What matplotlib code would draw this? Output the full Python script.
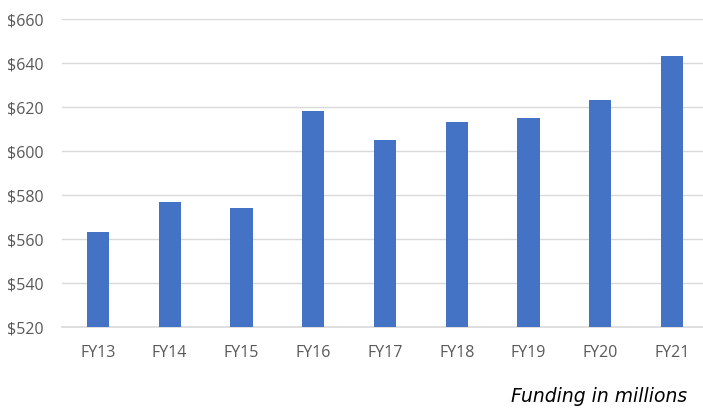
import matplotlib
matplotlib.use("Agg")
import matplotlib.pyplot as plt
from matplotlib.ticker import FuncFormatter

categories = ["FY13", "FY14", "FY15", "FY16", "FY17", "FY18", "FY19", "FY20", "FY21"]
funding = [563, 577, 574, 618, 605, 613, 615, 623, 643]
yticks = [520, 540, 560, 580, 600, 620, 640, 660]

plt.rcParams['font.family'] = ['Open Sans', 'DejaVu Sans']

fig = plt.figure(figsize=(7.03, 4.09), dpi=100)
ax = fig.add_axes([62/703, 1-327/409, (708-62)/703, (327-19)/409])
x = range(len(categories))
ax.bar(x, funding, width=0.31, color="#4472C4", zorder=3)
ax.set_xlim(-0.5, len(categories)-0.5)
ax.set_ylim(520, 660)
ax.set_yticks(yticks)
ax.yaxis.set_major_formatter(FuncFormatter(lambda v, p: f"${v:.0f}"))
ax.set_xticks(list(x))
ax.set_xticklabels(categories)
ax.grid(axis='y', color="#D9D9D9", linewidth=1, zorder=0)
ax.axhline(yticks[0], color="#D9D9D9", linewidth=1.2, zorder=2, clip_on=False)
for s in ax.spines.values():
    s.set_visible(False)
ax.tick_params(axis='both', length=0, labelsize=11.5, labelcolor="#595959")
ax.tick_params(axis='y', pad=13)
ax.tick_params(axis='x', pad=13)
fig.text(687/703, 1-396/409, "Funding in millions", ha='right', va='center',
         fontsize=13.5, style='italic', family=['DejaVu Sans'], color='black')
fig.savefig("out.png", dpi=100)
